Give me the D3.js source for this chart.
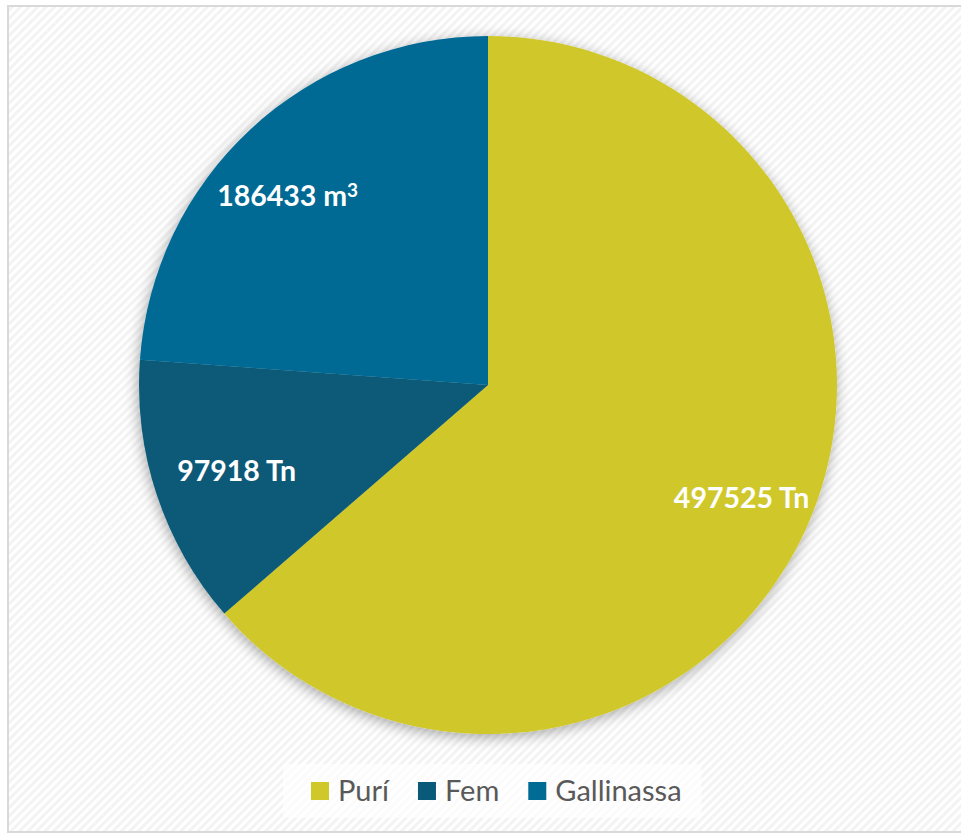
<!DOCTYPE html>
<html>
<head>
<meta charset="utf-8">
<script src="https://cdn.jsdelivr.net/npm/d3@7"></script>
<style>
  html, body { margin: 0; padding: 0; background: #fff; }
  svg { display: block; }
</style>
</head>
<body>
<div id="chart"></div>
<script>
// data
const categories = ["Purí", "Fem", "Gallinassa"];
const values = [497525, 97918, 186433];
const units = ["Tn", "Tn", "m"];
const unitSup = ["", "", "3"];
const colors = ["#d0c82a", "#085a78", "#006b94"];

const width = 961;
const height = 835;
const cx = 488, cy = 385, radius = 349;

const svg = d3.select("#chart")
  .append("svg")
  .attr("width", width)
  .attr("height", height);

const defs = svg.append("defs");

// light diagonal hatch for the chart area
const pat = defs.append("pattern")
  .attr("id", "hatch")
  .attr("patternUnits", "userSpaceOnUse")
  .attr("width", 6)
  .attr("height", 6)
  .attr("patternTransform", "rotate(45)");
pat.append("rect").attr("width", 6).attr("height", 6).attr("fill", "#ffffff");
pat.append("rect").attr("width", 3).attr("height", 6).attr("fill", "#f3f3f3");

// soft shadow under the pie
const shadow = defs.append("filter")
  .attr("id", "shadow")
  .attr("x", "-20%").attr("y", "-20%")
  .attr("width", "140%").attr("height", "140%");
shadow.append("feDropShadow")
  .attr("dx", -1)
  .attr("dy", 3)
  .attr("stdDeviation", 7)
  .attr("flood-color", "#000")
  .attr("flood-opacity", 0.35);

// chart area + border
svg.append("rect")
  .attr("x", 8).attr("y", 6)
  .attr("width", width).attr("height", 826)
  .attr("fill", "url(#hatch)")
  .attr("stroke", "#d9d9d9")
  .attr("stroke-width", 2);

const data = categories.map((c, i) => ({
  name: c, value: values[i], unit: units[i], sup: unitSup[i], color: colors[i]
}));

const pie = d3.pie().value(d => d.value).sort(null);
const arc = d3.arc().innerRadius(0).outerRadius(radius);
const labelArc = d3.arc().innerRadius(radius * 0.78).outerRadius(radius * 0.78);

const g = svg.append("g").attr("transform", `translate(${cx}, ${cy})`);

g.append("g")
  .attr("filter", "url(#shadow)")
  .selectAll("path")
  .data(pie(data))
  .enter()
  .append("path")
  .attr("d", arc)
  .attr("fill", d => d.data.color);

// small nudges (Excel best-fit doesn't sit exactly on the centroid)
const nudge = [[6, 0], [7, 0], [-15, 10]];

const labels = g.selectAll(".label")
  .data(pie(data))
  .enter()
  .append("text")
  .attr("class", "label")
  .attr("transform", (d, i) => {
    const c = labelArc.centroid(d);
    return `translate(${c[0] + nudge[i][0]}, ${c[1] + nudge[i][1]})`;
  })
  .attr("text-anchor", "middle")
  .attr("dy", "0.35em")
  .style("font-family", "Lato, 'Open Sans', sans-serif")
  .style("font-weight", "bold")
  .style("font-size", "28.5px")
  .attr("fill", "#ffffff");

labels.append("tspan").text(d => `${d.data.value} ${d.data.unit}`);
labels.filter(d => d.data.sup)
  .append("tspan")
  .attr("dy", "-0.45em")
  .style("font-size", "19px")
  .text(d => d.data.sup);

// legend
const legend = svg.append("g");
const legendBox = legend.append("rect")
  .attr("y", 764)
  .attr("height", 54)
  .attr("fill", "#ffffff")
  .attr("fill-opacity", 0.65);

const items = legend.selectAll(".item")
  .data(data)
  .enter()
  .append("g")
  .attr("class", "item");

items.append("rect")
  .attr("y", 782)
  .attr("width", 18)
  .attr("height", 18)
  .attr("fill", d => d.color);

items.append("text")
  .attr("x", 27)
  .attr("y", 801)
  .style("font-family", "Lato, 'Open Sans', sans-serif")
  .style("font-size", "29px")
  .attr("fill", "#595959")
  .text(d => d.name);

// lay out legend entries side by side, centred under the pie
let x = 0;
const gap = 29;
const offsets = [];
items.each(function() {
  offsets.push(x);
  x += 27 + this.querySelector("text").getComputedTextLength() + gap;
});
const total = x - gap;
const startX = 311;
items.attr("transform", (d, i) => `translate(${startX + offsets[i]}, 0)`);
legendBox.attr("x", startX - 28).attr("width", total + 48);
</script>
</body>
</html>
